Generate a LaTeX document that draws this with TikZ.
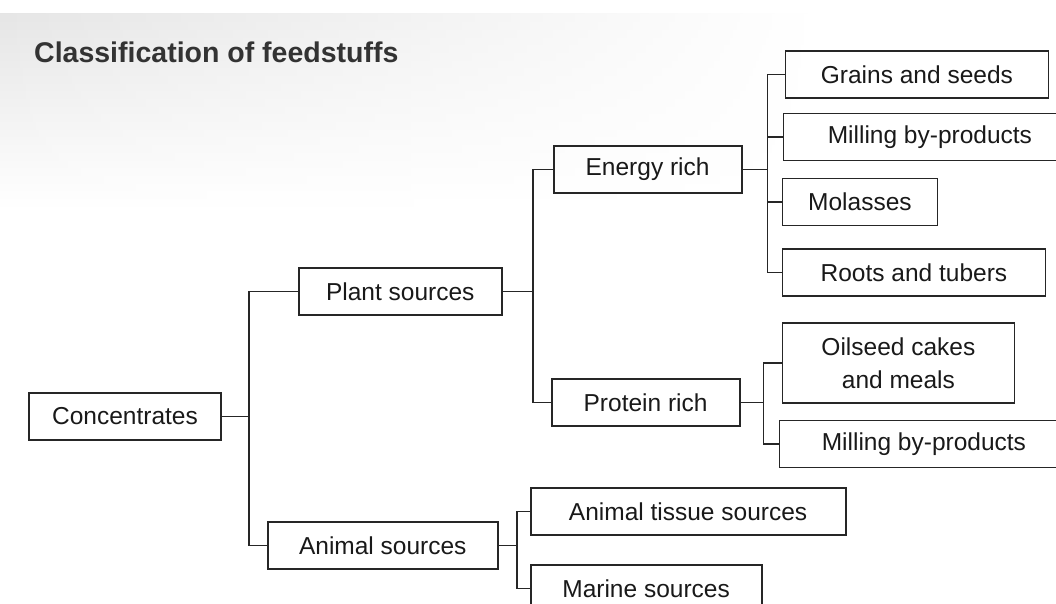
\documentclass[tikz,border=0pt]{standalone}
\usepackage{fontspec}
\setmainfont{Liberation Sans}
\usetikzlibrary{positioning}
\usetikzlibrary{fadings}
\tikzstyle{feedBox} = [rectangle, draw=black!85, line width=1.8pt, minimum height=47pt, inner sep=2pt, align=center, text=black!90, font=\fontsize{24.5}{33}\selectfont]
\tikzstyle{link} = [draw=black!85, line width=1.8pt]

\begin{document}
\begin{tikzpicture}[x=1pt, y=-1pt]
\useasboundingbox (0,0) rectangle (1056,604);
% faint shade of the scanned page
\shade[top color=black!10, bottom color=white, path fading=east] (0,14) rectangle (820,210);

% Title
\node[anchor=base west, inner sep=0pt, text=black!80, font=\bfseries\fontsize{28.5}{28.5}\selectfont] (title) at (34,63) {Classification of feedstuffs};

% Define nodes
\node[feedBox, minimum width=192pt]                                  (conc)    at (125,416.5) {Concentrates};
\node[feedBox, minimum width=203pt, right = 76pt of conc, yshift = 125pt]   (plant)   {Plant sources};
\node[feedBox, minimum width=230pt, right = 45pt of conc, yshift = -129pt]  (animal)  {Animal sources};

\node[feedBox, minimum width=188pt, right = 50pt of plant, yshift = 122pt]  (energy)  {Energy rich};
\node[feedBox, minimum width=188pt, right = 48pt of plant, yshift = -111pt] (protein) {Protein rich};

\node[feedBox, minimum width=263pt, right = 42pt of energy, yshift = 95pt]    (grain)  {Grains and seeds};
\node[feedBox, minimum width=293pt, right = 40pt of energy, yshift = 32.5pt]  (millE)  {Milling by-products};
\node[feedBox, minimum width=155pt, right = 39pt of energy, yshift = -32.5pt] (mol)    {Molasses};
\node[feedBox, minimum width=263pt, right = 39pt of energy, yshift = -103pt]  (root)   {Roots and tubers};

\node[feedBox, minimum width=232pt, minimum height=80pt, right = 41pt of protein, yshift = 39.5pt] (oil) {Oilseed cakes\\and meals};
\node[feedBox, minimum width=289pt, right = 38pt of protein, yshift = -41.5pt] (millP) {Milling by-products};

\node[feedBox, minimum width=315pt, right = 31pt of animal, yshift = 34pt]  (tissue) {Animal tissue sources};
\node[feedBox, minimum width=231pt, right = 31pt of animal, yshift = -43pt] (marine) {Marine sources};

% Edges
\draw[link] (conc.east) -- ++(27,0) coordinate (cb);
\draw[link] (cb) |- (plant);
\draw[link] (cb) |- (animal);

\draw[link] (plant.east) -- ++(30,0) coordinate (pb);
\draw[link] (pb) |- (energy);
\draw[link] (pb) |- (protein);

\draw[link] (energy.east) -- ++(25,0) coordinate (eb);
\draw[link] (eb) |- (grain);
\draw[link] (eb) |- (millE);
\draw[link] (eb) |- (mol);
\draw[link] (eb) |- (root);

\draw[link] (protein.east) -- ++(23,0) coordinate (rb);
\draw[link] (rb) |- (oil);
\draw[link] (rb) |- (millP);

\draw[link] (animal.east) -- ++(18,0) coordinate (ab);
\draw[link] (ab) |- (tissue);
\draw[link] (ab) |- (marine);
\end{tikzpicture}
\end{document}
